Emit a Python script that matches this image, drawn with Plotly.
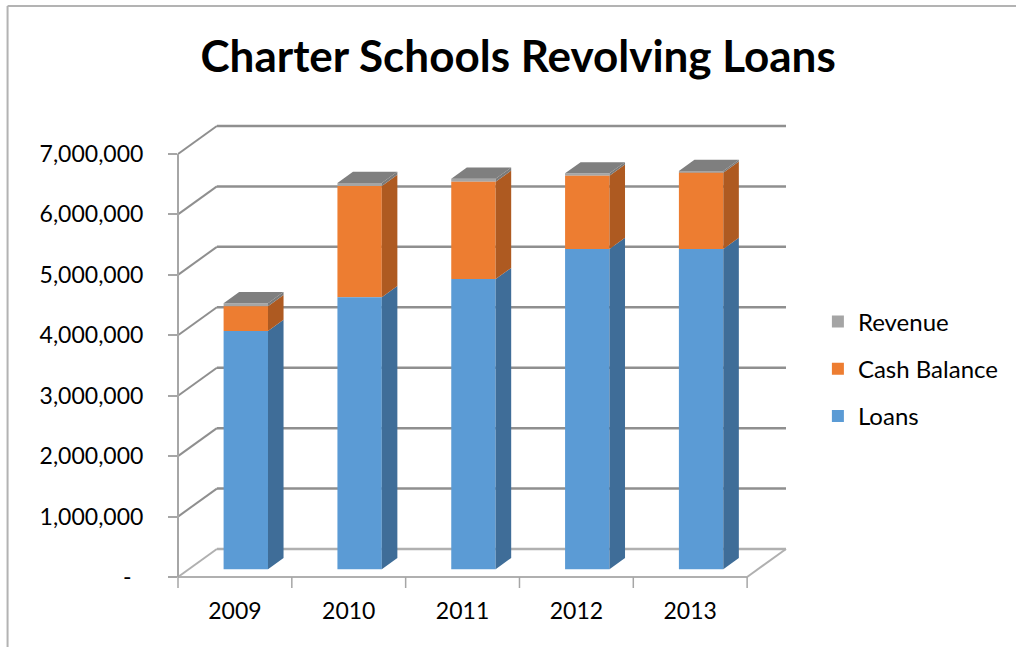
import plotly.graph_objects as go

# ---------------- data ----------------
years = ["2009", "2010", "2011", "2012", "2013"]
loans = [3940000, 4500000, 4800000, 5300000, 5300000]
cash_balance = [410000, 1840000, 1610000, 1210000, 1260000]
revenue = [50000, 50000, 50000, 40000, 30000]
y_ticks = [0, 1000000, 2000000, 3000000, 4000000, 5000000, 6000000, 7000000]
y_ticktext = ["-\u00a0\u00a0"] + [f"{v:,}" for v in y_ticks[1:]]

# ---------------- geometry / style ----------------
W, H = 1016, 647
L, R, T, B = 178, 788, 126, 577          # plot area in pixels
DX = 0.3415                               # wall depth, category units
DY = 463000                               # wall depth, value units
XMIN, XMAX = -0.5, 4.5 + DX
YMIN, YMAX = 0, 7000000 + DY
D0, DD = 0.28, 0.40                       # bar depth start / depth
BW = 0.39                                 # bar width
FONT = "Lato"

front_cols = {"Loans": "#5B9BD5", "Cash Balance": "#ED7D31", "Revenue": "#A5A5A5"}
side_cols = {"Loans": "#3F6D98", "Cash Balance": "#AE5A21", "Revenue": "#7A7A7A"}
top_col = "#7F7F7F"


def px(cx, v):
    return (cx - XMIN) / (XMAX - XMIN), (v - YMIN) / (YMAX - YMIN)


def pix(x, y):
    return (x - L) / (R - L), (B - y) / (B - T)


def line_shape(p0, p1, color, width):
    return dict(type="line", xref="paper", yref="paper", x0=p0[0], y0=p0[1],
                x1=p1[0], y1=p1[1], line=dict(color=color, width=width), layer="below")


shapes = []
n = len(years)
# back-wall gridlines + diagonals
for v in y_ticks:
    c = "#8F8F8F" if v > 0 else "#B0B0B0"
    shapes.append(line_shape(px(XMIN + DX, v + DY), px(n - 0.5 + DX, v + DY), c, 2.5))
    shapes.append(line_shape(px(XMIN, v), px(XMIN + DX, v + DY), c, 2))
# floor front edge and right diagonal
shapes.append(line_shape(px(XMIN, 0), px(n - 0.5, 0), "#B0B0B0", 2))
shapes.append(line_shape(px(n - 0.5, 0), px(n - 0.5 + DX, DY), "#B0B0B0", 2))
# vertical value axis
shapes.append(line_shape(px(XMIN, 0), px(XMIN, y_ticks[-1]), "#A6A6A6", 2))
# category tick marks
tick_len = 11 / (B - T)
for k in range(n + 1):
    x0, y0 = px(XMIN + k, 0)
    shapes.append(line_shape((x0, y0), (x0, y0 - tick_len), "#A6A6A6", 1.5))
# outer chart border (left and top)
shapes.append(line_shape(pix(7, 6), pix(7, H + 5), "#B3B3B3", 2))
shapes.append(line_shape(pix(7, 6), pix(W + 5, 6), "#B3B3B3", 2))

fig = go.Figure()

series = [("Loans", loans), ("Cash Balance", cash_balance), ("Revenue", revenue)]
xs = [i + D0 * DX for i in range(n)]
cum = [0] * n
segs = {}
bars = []
for name, vals in series:
    bases = [c + D0 * DY for c in cum]
    bars.append(go.Bar(
        x=xs, y=vals, base=bases, width=BW, name=name,
        marker=dict(color=front_cols[name], line=dict(width=0)),
        legendgroup=name, hoverinfo="skip"))
    segs[name] = [(cum[i], cum[i] + vals[i]) for i in range(n)]
    cum = [cum[i] + vals[i] for i in range(n)]
# legend order: Revenue, Cash Balance, Loans (top to bottom)
for b in reversed(bars):
    fig.add_trace(b)

# side faces
for name, _ in series:
    sx, sy = [], []
    for i in range(n):
        lo, hi = segs[name][i]
        xr = xs[i] + BW / 2
        b0, t0 = lo + D0 * DY, hi + D0 * DY
        sx += [xr, xr + DD * DX, xr + DD * DX, xr, xr, None]
        sy += [b0, b0 + DD * DY, t0 + DD * DY, t0, b0, None]
    fig.add_trace(go.Scatter(x=sx, y=sy, mode="lines", fill="toself",
                             fillcolor=side_cols[name], line=dict(width=0),
                             showlegend=False, hoverinfo="skip"))

# top faces
tx, ty = [], []
for i in range(n):
    top = cum[i] + D0 * DY
    xl, xr = xs[i] - BW / 2, xs[i] + BW / 2
    tx += [xl, xr, xr + DD * DX, xl + DD * DX, xl, None]
    ty += [top, top, top + DD * DY, top + DD * DY, top, None]
fig.add_trace(go.Scatter(x=tx, y=ty, mode="lines", fill="toself",
                         fillcolor=top_col, line=dict(width=0),
                         showlegend=False, hoverinfo="skip"))

fig.update_layout(
    width=W, height=H,
    margin=dict(l=L, r=W - R, t=T, b=H - B, pad=0),
    paper_bgcolor="white", plot_bgcolor="white",
    barmode="overlay",
    font=dict(family=FONT, color="#000000", size=23),
    title=dict(text="<b>Charter Schools Revolving Loans</b>", x=0.51, xanchor="center",
               y=1 - 57 / H, yanchor="middle", font=dict(family=FONT, size=44, color="#000000")),
    xaxis=dict(range=[XMIN, XMAX], tickvals=list(range(n)), ticktext=years,
               showgrid=False, zeroline=False, showline=False, ticks="",
               ticklabelstandoff=18, tickfont=dict(size=23, family=FONT)),
    yaxis=dict(range=[YMIN, YMAX], tickvals=y_ticks, ticktext=y_ticktext,
               showgrid=False, zeroline=False, showline=False,
               ticks="outside", ticklen=9, tickwidth=2, tickcolor="#A6A6A6",
               ticklabelstandoff=20, tickfont=dict(size=23, family=FONT)),
    legend=dict(x=pix(820, 0)[0], xanchor="left", y=pix(0, 369)[1], yanchor="middle",
                traceorder="grouped", tracegroupgap=13,
                font=dict(size=24, family=FONT), bgcolor="rgba(0,0,0,0)"),
    shapes=shapes,
    showlegend=True,
)

fig.write_html("out.html", config={"displayModeBar": False},
               post_script="document.body.style.margin='0';")
